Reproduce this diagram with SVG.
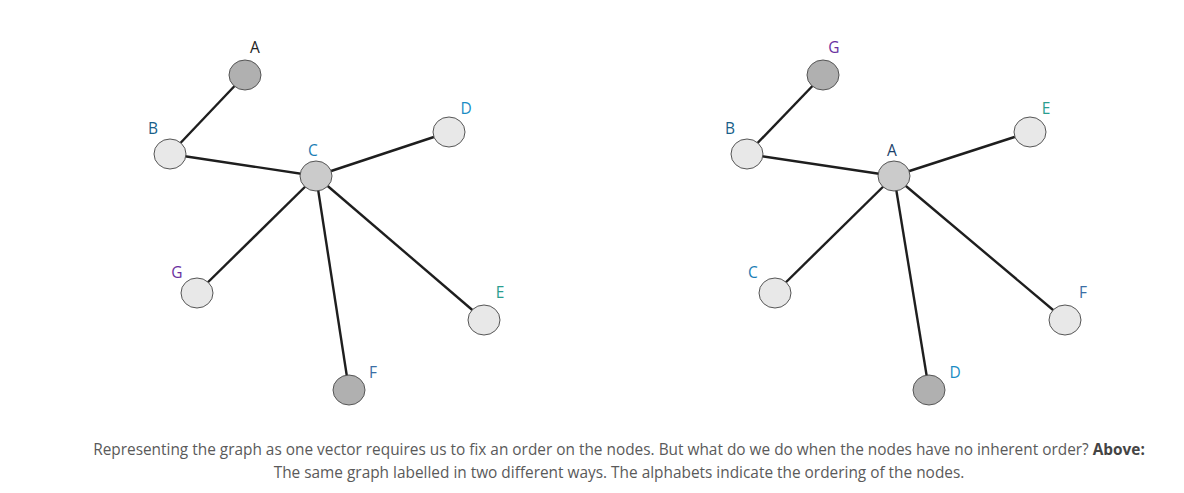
<svg xmlns="http://www.w3.org/2000/svg" width="1184" height="493" viewBox="0 0 1184 493">
<style>
.e{stroke:#1e1e1e;stroke-width:2.4;fill:none}
.n{stroke:#555;stroke-width:1}
.dk{fill:#b0b0b0}.md{fill:#cbcbcb}.lt{fill:#e8e8e8}
.l{font-family:"Open Sans","DejaVu Sans",sans-serif;font-size:15.5px;text-anchor:middle}
.cap{font-family:"Open Sans","DejaVu Sans",sans-serif;font-size:15.4px;fill:#5a5a5a;text-anchor:middle}
</style>
<rect width="1184" height="493" fill="#fff"/>
<g id="connectors">
<line class="e" x1="245" y1="75" x2="170" y2="154"/>
<line class="e" x1="170" y1="154" x2="316" y2="176"/>
<line class="e" x1="316" y1="176" x2="449" y2="132"/>
<line class="e" x1="316" y1="176" x2="197" y2="293"/>
<line class="e" x1="316" y1="176" x2="484" y2="320"/>
<line class="e" x1="316" y1="176" x2="349" y2="390"/>
<line class="e" x1="823" y1="75" x2="747" y2="154"/>
<line class="e" x1="747" y1="154" x2="894" y2="176"/>
<line class="e" x1="894" y1="176" x2="1030" y2="132"/>
<line class="e" x1="894" y1="176" x2="775" y2="293"/>
<line class="e" x1="894" y1="176" x2="1065" y2="320"/>
<line class="e" x1="894" y1="176" x2="929" y2="390"/>
</g>
<g id="L-A"><ellipse class="n dk" cx="245" cy="75" rx="16" ry="15"/><text class="l" x="255" y="53" fill="#222">A</text></g>
<g id="L-B"><ellipse class="n lt" cx="170" cy="154" rx="16" ry="15"/><text class="l" x="153" y="134" fill="#1a5f8a">B</text></g>
<g id="L-C"><ellipse class="n md" cx="316" cy="176" rx="16" ry="15"/><text class="l" x="313" y="156" fill="#1a7db5">C</text></g>
<g id="L-D"><ellipse class="n lt" cx="449" cy="132" rx="16" ry="15"/><text class="l" x="466" y="114" fill="#1a8cc4">D</text></g>
<g id="L-G"><ellipse class="n lt" cx="197" cy="293" rx="16" ry="15"/><text class="l" x="177" y="278" fill="#6a2fa0">G</text></g>
<g id="L-E"><ellipse class="n lt" cx="484" cy="320" rx="16" ry="15"/><text class="l" x="500" y="298" fill="#2a9d8f">E</text></g>
<g id="L-F"><ellipse class="n dk" cx="349" cy="390" rx="16" ry="15"/><text class="l" x="373" y="378" fill="#3a6ea5">F</text></g>
<g id="R-G"><ellipse class="n dk" cx="823" cy="75" rx="16" ry="15"/><text class="l" x="834" y="53" fill="#6a2fa0">G</text></g>
<g id="R-B"><ellipse class="n lt" cx="747" cy="154" rx="16" ry="15"/><text class="l" x="730" y="134" fill="#1a5f8a">B</text></g>
<g id="R-A"><ellipse class="n md" cx="894" cy="176" rx="16" ry="15"/><text class="l" x="892" y="156" fill="#1a3f6a">A</text></g>
<g id="R-E"><ellipse class="n lt" cx="1030" cy="132" rx="16" ry="15"/><text class="l" x="1046" y="114" fill="#2a9d8f">E</text></g>
<g id="R-C"><ellipse class="n lt" cx="775" cy="293" rx="16" ry="15"/><text class="l" x="753" y="278" fill="#1a7db5">C</text></g>
<g id="R-F"><ellipse class="n lt" cx="1065" cy="320" rx="16" ry="15"/><text class="l" x="1083" y="298" fill="#3a6ea5">F</text></g>
<g id="R-D"><ellipse class="n dk" cx="929" cy="390" rx="16" ry="15"/><text class="l" x="955" y="378" fill="#1a8cc4">D</text></g>
<g id="caption">
<text class="cap" x="619" y="455">Representing the graph as one vector requires us to fix an order on the nodes. But what do we do when the nodes have no inherent order? <tspan font-weight="bold" fill="#444">Above:</tspan></text>
<text class="cap" x="619" y="478">The same graph labelled in two different ways. The alphabets indicate the ordering of the nodes.</text>
</g>
</svg>
